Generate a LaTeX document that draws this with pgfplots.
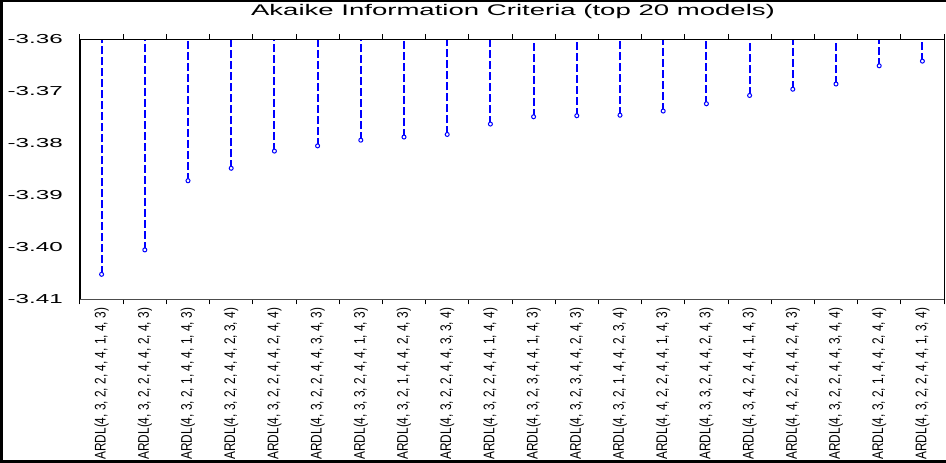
\documentclass[border=0pt]{standalone}
\usepackage{pgfplots}
\pgfplotsset{compat=1.18}
\usepackage{fontspec}
\setmainfont{Liberation Sans}
\newfontfamily\narrowfont[FakeStretch=0.77]{Liberation Sans}
\newfontfamily\ylabfont[FakeStretch=1.86]{Liberation Sans}
\newfontfamily\titlefont[FakeStretch=1.79]{Liberation Sans}
\definecolor{stemblue}{RGB}{0,0,255}
\pgfplotstableread{
x y e
1 -3.4052 0.0452
2 -3.4005 0.0405
3 -3.3872 0.0272
4 -3.3848 0.0248
5 -3.3815 0.0215
6 -3.3805 0.0205
7 -3.3794 0.0194
8 -3.3788 0.0188
9 -3.3783 0.0183
10 -3.3763 0.0163
11 -3.3749 0.0149
12 -3.3747 0.0147
13 -3.3746 0.0146
14 -3.3738 0.0138
15 -3.3724 0.0124
16 -3.3708 0.0108
17 -3.3696 0.0096
18 -3.3686 0.0086
19 -3.3651 0.0051
20 -3.3642 0.0042
}\aicdata
\begin{document}
\begin{tikzpicture}[x=1pt,y=1pt]
\useasboundingbox (0,0) rectangle (946,463);
\begin{axis}[
 at={(80pt,163.7pt)}, anchor=south west,
 scale only axis, width=864pt, height=260pt,
 xmin=0.5, xmax=20.5, ymin=-3.41, ymax=-3.36,
 axis line style={draw=none},
 xtick={1,...,20},
 xticklabels={
 {ARDL(4, 3, 2, 2, 4, 4, 1, 4, 3)},
 {ARDL(4, 3, 2, 2, 4, 4, 2, 4, 3)},
 {ARDL(4, 3, 2, 1, 4, 4, 1, 4, 3)},
 {ARDL(4, 3, 2, 2, 4, 4, 2, 3, 4)},
 {ARDL(4, 3, 2, 2, 4, 4, 2, 4, 4)},
 {ARDL(4, 3, 2, 2, 4, 4, 3, 4, 3)},
 {ARDL(4, 3, 3, 2, 4, 4, 1, 4, 3)},
 {ARDL(4, 3, 2, 1, 4, 4, 2, 4, 3)},
 {ARDL(4, 3, 2, 2, 4, 4, 3, 3, 4)},
 {ARDL(4, 3, 2, 2, 4, 4, 1, 4, 4)},
 {ARDL(4, 3, 2, 3, 4, 4, 1, 4, 3)},
 {ARDL(4, 3, 2, 3, 4, 4, 2, 4, 3)},
 {ARDL(4, 3, 2, 1, 4, 4, 2, 3, 4)},
 {ARDL(4, 4, 2, 2, 4, 4, 1, 4, 3)},
 {ARDL(4, 3, 3, 2, 4, 4, 2, 4, 3)},
 {ARDL(4, 3, 4, 2, 4, 4, 1, 4, 3)},
 {ARDL(4, 4, 2, 2, 4, 4, 2, 4, 3)},
 {ARDL(4, 3, 2, 2, 4, 4, 3, 4, 4)},
 {ARDL(4, 3, 2, 1, 4, 4, 2, 4, 4)},
 {ARDL(4, 3, 2, 2, 4, 4, 1, 3, 4)}},
 x tick style={draw=none},
 major tick length=0pt,
 xticklabel style={yshift=-8.5pt, rotate=90, anchor=east, inner sep=0pt,
   font=\narrowfont\fontsize{15.4}{16}\selectfont},
 extra x ticks={0.5,1.5,...,20.5},
 extra x tick labels={},
 extra x tick style={tick align=outside, major tick length=5pt,
   x tick style={draw=black, line width=1pt}},
 ytick={-3.41,-3.40,-3.39,-3.38,-3.37,-3.36},
 yticklabels={-3.41,-3.40,-3.39,-3.38,-3.37,-3.36},
 y tick style={draw=black, line width=1pt},
 tick align=outside,
 yticklabel style={anchor=east, inner sep=0pt, xshift=-17pt,
   font=\ylabfont\fontsize{13}{14}\selectfont},
 clip=false,
]
\addplot[draw=none, mark=none, forget plot,
  error bars/.cd, y dir=plus, y explicit,
  error mark=none,
  error bar style={draw=stemblue, line width=2pt, dash pattern=on 8pt off 3pt}]
  table[x=x, y=y, y error=e] {\aicdata};
\addplot[only marks, mark=*, mark size=2pt,
  mark options={draw=stemblue, fill=white, line width=1pt, solid}]
  table[x=x, y=y] {\aicdata};
\draw[black, line width=0.8pt] (rel axis cs:0,1) -- (rel axis cs:1,1) -- (rel axis cs:1,0);
\draw[black!70, line width=1pt] (rel axis cs:0,0) -- (rel axis cs:1,0);
\draw[black, line width=2pt] (rel axis cs:0,0) -- (rel axis cs:0,1);
\end{axis}
\node[anchor=base, inner sep=0pt, font=\titlefont\fontsize{15.4}{17}\selectfont] at (513,447.5) {Akaike Information Criteria (top 20 models)};
\draw[black, line width=2.5pt] (1.25,0) -- (1.25,461.75) -- (946,461.75);
\draw[black, line width=2.5pt] (0,1.25) -- (946,1.25);
\end{tikzpicture}
\end{document}
